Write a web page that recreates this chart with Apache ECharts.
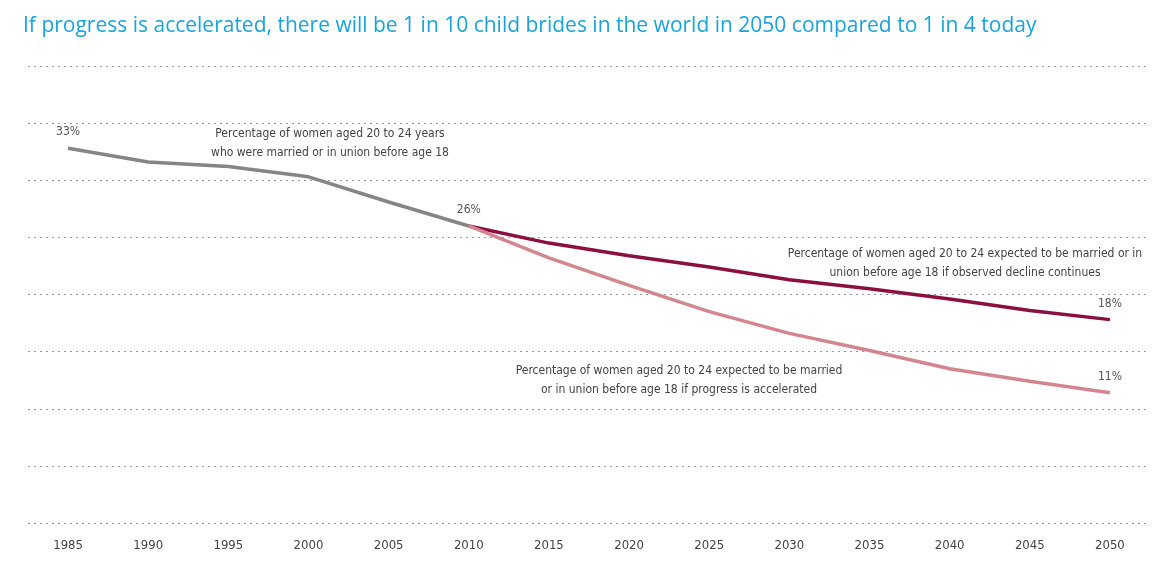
<!DOCTYPE html>
<html><head><meta charset="utf-8">
<script src="https://cdn.jsdelivr.net/npm/echarts@6/dist/echarts.min.js"></script>
<style>body{margin:0;background:#fff}#c{width:1170px;height:577px}</style>
</head><body><div id="c"></div>
<script>
var years = ['1985','1990','1995','2000','2005','2010','2015','2020','2025','2030','2035','2040','2045','2050'];
var observed = [32.8, 31.6, 31.2, 30.3, 28.1, 26, null, null, null, null, null, null, null, null];
var continued = [null, null, null, null, null, 26, 24.5, 23.4, 22.4, 21.3, 20.5, 19.6, 18.6, 17.8];
var accelerated = [null, null, null, null, null, 26, 23.2, 20.8, 18.5, 16.6, 15.1, 13.5, 12.4, 11.4];
// index -> label text
var observedLabels = { 0: '33%', 5: '26%' };
var continuedLabels = { 13: '18%' };
var acceleratedLabels = { 13: '11%' };

var font = '"DejaVu Sans Condensed", "Liberation Sans Narrow", sans-serif';
var chart = echarts.init(document.getElementById('c'));

function withLabels(values, labels) {
  return values.map(function (v, i) {
    if (labels[i] === undefined) return v;
    return { value: v, label: { show: true, formatter: labels[i] } };
  });
}

var labelStyle = { show: false, position: 'top', distance: 10, color: '#555', fontSize: 12, fontFamily: font };

chart.setOption({
  animation: false,
  title: {
    text: 'If progress is accelerated, there will be 1 in 10 child brides in the world in 2050 compared to 1 in 4 today',
    left: 18, top: 11,
    textStyle: { color: '#1aa3dc', fontSize: 21, fontWeight: 'normal', fontFamily: '"Open Sans", sans-serif' }
  },
  grid: { left: 28, right: 20, top: 66, bottom: 54 },
  xAxis: {
    type: 'category', data: years, boundaryGap: true,
    axisLine: { show: false }, axisTick: { show: false },
    axisLabel: { color: '#444', fontSize: 13, fontFamily: font, margin: 16 }
  },
  yAxis: {
    type: 'value', min: 0, max: 40, interval: 5,
    axisLabel: { show: false }, axisLine: { show: false }, axisTick: { show: false },
    splitLine: { lineStyle: { color: '#999', type: [2, 4], width: 1 } }
  },
  series: [
    { type: 'line', data: withLabels(observed, observedLabels), symbol: 'circle', symbolSize: 0,
      lineStyle: { color: '#858585', width: 3.5 }, label: labelStyle },
    { type: 'line', data: withLabels(continued, continuedLabels), symbol: 'circle', symbolSize: 0,
      lineStyle: { color: '#8b1040', width: 3.5 }, label: labelStyle },
    { type: 'line', data: withLabels(accelerated, acceleratedLabels), symbol: 'circle', symbolSize: 0,
      lineStyle: { color: '#d4868f', width: 3.5 }, label: labelStyle }
  ],
  graphic: [
    { type: 'text', x: 330, y: 124, style: { text: 'Percentage of women aged 20 to 24 years\nwho were married or in union before age 18',
      textAlign: 'center', fill: '#444', font: '12px ' + font, lineHeight: 19 } },
    { type: 'text', x: 965, y: 244, style: { text: 'Percentage of women aged 20 to 24 expected to be married or in\nunion before age 18 if observed decline continues',
      textAlign: 'center', fill: '#444', font: '12px ' + font, lineHeight: 19 } },
    { type: 'text', x: 679, y: 361, style: { text: 'Percentage of women aged 20 to 24 expected to be married\nor in union before age 18 if progress is accelerated',
      textAlign: 'center', fill: '#444', font: '12px ' + font, lineHeight: 19 } }
  ]
});
</script></body></html>
